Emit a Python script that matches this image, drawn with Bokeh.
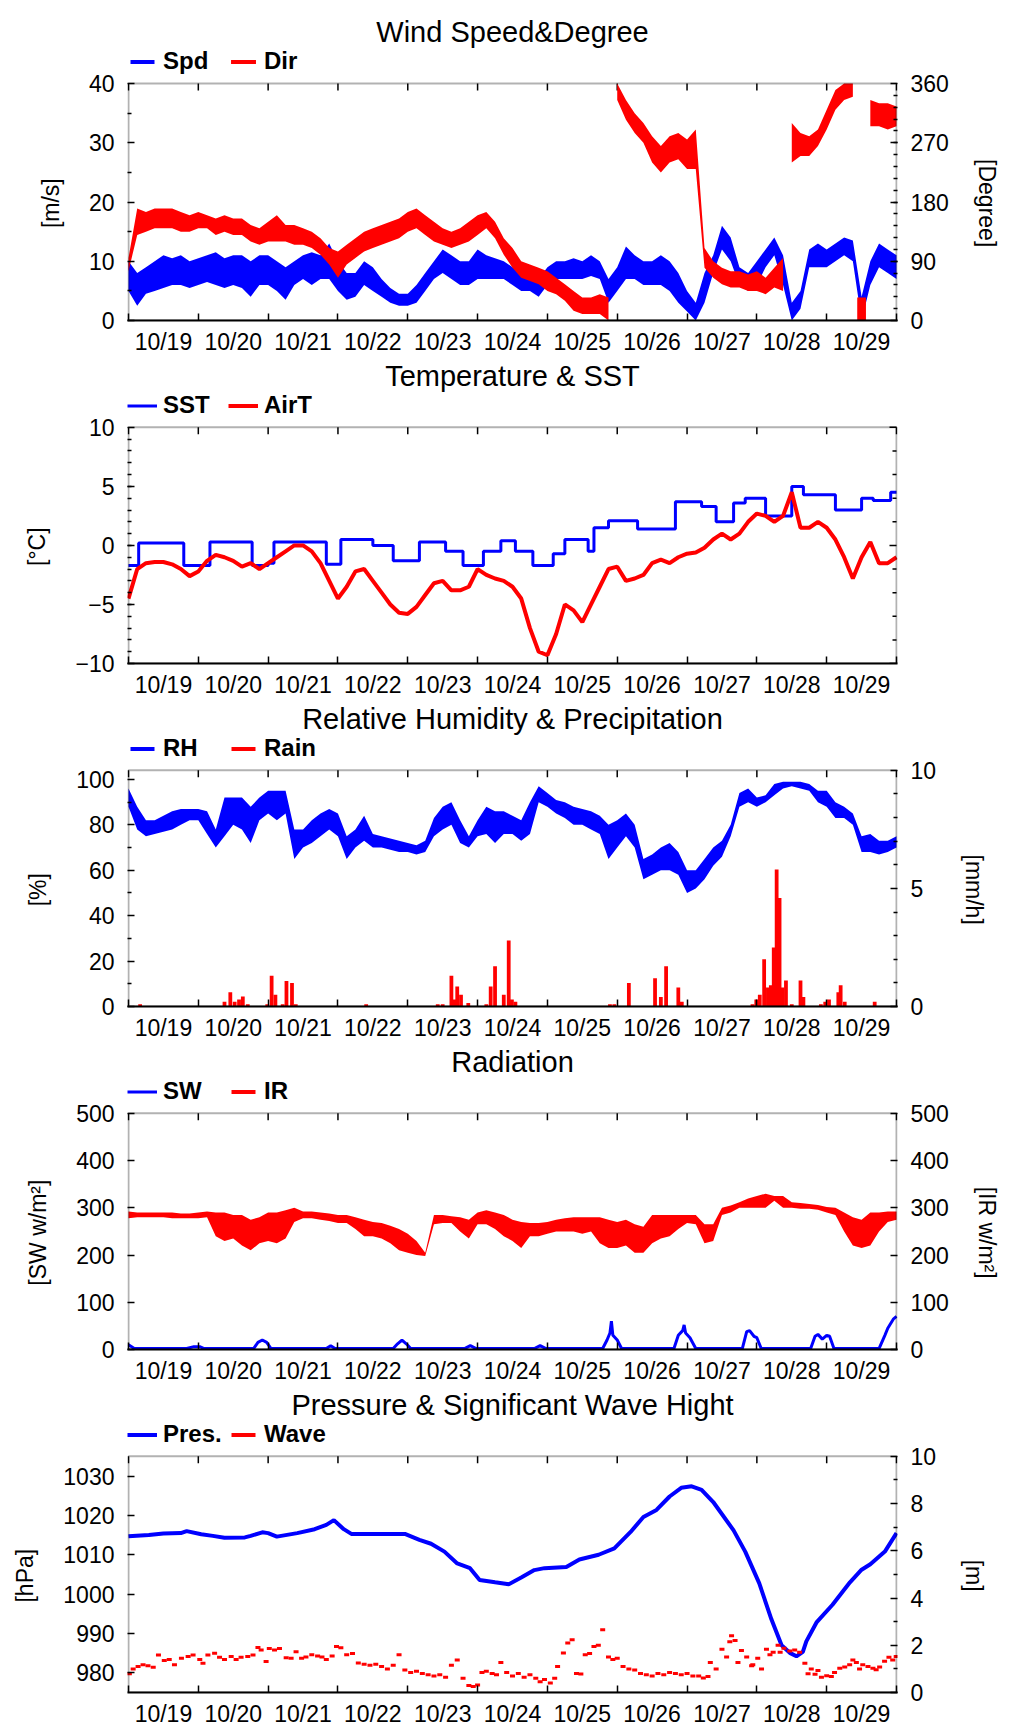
import math
import numpy as np
from bokeh.plotting import figure
from bokeh.layouts import column
from bokeh.models import (Range1d, LinearAxis, FixedTicker, Legend, LegendItem,
                          CustomJSTickFormatter, BoxAnnotation)
from bokeh.embed import file_html
from bokeh.resources import INLINE

FONT = "Liberation Sans"
BLUE = "#0000ff"
RED = "#ff0000"

# ---------------------------------------------------------------- time axis
# hours since 10/19 00:00; labels sit at the middle of each day
DAY_LABELS = ["10/19", "10/20", "10/21", "10/22", "10/23", "10/24",
              "10/25", "10/26", "10/27", "10/28", "10/29"]
HOURS = list(range(0, 265, 3))          # 3-hourly samples
T_END = 264

# ---------------------------------------------------------------- wind
SPD_LO = [5, 2.5, 4.5, 5, 5.5, 6, 6, 5.5,
          6, 6.5, 6, 5.5, 6, 5.5, 4, 6,
          6, 5, 3.5, 6, 7, 6, 7, 7,
          5, 3.5, 4, 6, 5, 4, 3, 2.5,
          2.5, 3, 5, 7, 8, 7, 6, 6,
          7, 7, 7, 7, 6, 5, 5, 4,
          6, 7, 7, 7, 7, 7.5, 7, 3,
          5, 7, 7, 6, 6, 6, 5, 3,
          1.5, 0, 3, 8, 12, 10, 6, 5,
          6, 9, 11, 6, 0, 2, 9, 9,
          9, 10, 11, 10, 0, 6, 9, 8, 7]
SPD_HI = [10, 8, 9, 10, 11, 10.5, 11, 10,
          10.5, 11, 11.5, 10.5, 11, 11, 10, 11,
          11, 10, 9, 10, 11, 11.5, 11, 13,
          10, 8, 8, 10, 9, 7, 5.5, 4.5,
          4.5, 6, 8, 10, 12, 11, 10, 10,
          12, 11, 10.5, 10, 9, 8, 8, 7,
          9, 10, 10, 10.5, 10, 11, 10, 7,
          9, 12.5, 11, 10, 10, 11, 10, 8,
          5, 3, 8, 11, 16, 14, 9, 8,
          10, 12, 14, 11, 3, 5, 12, 13,
          12, 13, 14, 13.5, 4, 10, 13, 12, 11]
DIR_LO = [75, 130, 135, 140, 140, 140, 135, 135,
          140, 140, 130, 135, 130, 130, 120, 115,
          120, 120, 120, 115, 115, 110, 100, 85,
          65, 85, 95, 105, 110, 115, 120, 125,
          135, 140, 130, 120, 115, 110, 115, 120,
          130, 140, 125, 100, 80, 65, 60, 55,
          45, 40, 30, 15, 10, 10, 10, 0,
          335, 305, 285, 270, 240, 225, 240, 245,
          230, 230, 80, 65, 55, 50, 50, 45,
          45, 40, 50, 45, 240, 250, 250, 265,
          290, 320, 335, 340, 0, 295, 295, 290, 295]
DIR_HI = [95, 170, 165, 170, 170, 170, 165, 160,
          165, 160, 155, 160, 155, 155, 145, 140,
          150, 160, 145, 145, 140, 135, 125, 110,
          105, 115, 125, 135, 140, 145, 150, 155,
          165, 170, 160, 150, 140, 135, 140, 150,
          160, 165, 150, 125, 110, 90, 85, 80,
          75, 65, 55, 45, 35, 35, 40, 35,
          360, 335, 315, 300, 280, 265, 280, 285,
          275, 290, 110, 90, 80, 75, 75, 70,
          75, 65, 80, 95, 300, 285, 280, 290,
          320, 350, 360, 360, 35, 335, 330, 330, 325]

# ---------------------------------------------------------------- temperature
SST_T = [0, 3.5, 19, 28, 42.5, 48, 50, 68, 73, 84, 91, 100, 109, 115, 122,
         128, 133, 139, 146, 150, 158, 160, 165, 175, 188, 197, 202, 208,
         212, 219, 228, 232, 243, 252, 256, 262, 264]
SST_V = [-1.7, 0.2, -1.7, 0.3, -1.7, -1.5, 0.3, -1.6, 0.5, 0.0, -1.3, 0.3,
         -0.5, -1.7, -0.5, 0.4, -0.5, -1.7, -0.7, 0.5, -0.5, 1.5, 2.1, 1.4,
         3.7, 3.3, 2.0, 3.6, 4.0, 2.5, 5.0, 4.3, 3.0, 4.0, 3.8, 4.5, 4.5]
AIRT = [-4.5, -2.0, -1.5, -1.4, -1.4, -1.6, -2.0, -2.6,
        -2.2, -1.3, -0.8, -1.0, -1.3, -1.8, -1.5, -2.0,
        -1.5, -1.0, -0.5, 0.0, 0.0, -0.5, -1.5, -3.0,
        -4.5, -3.5, -2.2, -2.0, -3.0, -4.0, -5.0, -5.7,
        -5.8, -5.2, -4.2, -3.2, -3.0, -3.8, -3.8, -3.5,
        -2.0, -2.5, -2.8, -3.0, -3.5, -4.5, -7.0, -9.0,
        -9.3, -7.5, -5.0, -5.5, -6.5, -5.0, -3.5, -2.0,
        -1.8, -3.0, -2.8, -2.5, -1.5, -1.2, -1.5, -1.0,
        -0.7, -0.6, -0.2, 0.5, 1.0, 0.5, 1.0, 2.0,
        2.7, 2.5, 2.0, 2.5, 4.5, 1.5, 1.5, 2.0,
        1.5, 0.5, -1.0, -2.8, -1.0, 0.3, -1.5, -1.5, -1.0]

# ---------------------------------------------------------------- humidity / rain
RH_LO = [88, 78, 75, 76, 77, 78, 80, 82,
         82, 76, 70, 75, 80, 78, 72, 82,
         85, 82, 85, 65, 70, 72, 75, 78,
         75, 65, 70, 73, 70, 70, 69, 68,
         68, 67, 68, 75, 78, 80, 72, 70,
         75, 76, 72, 76, 76, 73, 76, 90,
         88, 85, 83, 80, 80, 78, 76, 65,
         70, 75, 70, 56, 58, 60, 60, 58,
         50, 52, 56, 62, 66, 75, 88, 90,
         88, 90, 93, 96, 97, 96, 95, 90,
         88, 83, 83, 80, 68, 68, 67, 68, 70]
RH_HI = [96, 88, 82, 82, 84, 86, 87, 87,
         87, 86, 78, 92, 92, 92, 88, 92,
         95, 95, 95, 78, 78, 82, 85, 87,
         85, 75, 78, 84, 76, 75, 74, 73,
         72, 71, 73, 83, 88, 90, 82, 75,
         82, 88, 86, 86, 84, 82, 90, 97,
         94, 91, 90, 88, 87, 86, 84, 80,
         82, 85, 80, 65, 67, 70, 72, 68,
         60, 60, 65, 70, 73, 80, 94, 96,
         92, 93, 98, 99, 99, 99, 98, 95,
         95, 90, 88, 85, 75, 76, 73, 73, 75]
RAIN_H = [4, 33, 35, 36.5, 38, 39.3, 41, 47.7, 49.2, 50.5, 53, 54.3, 56.2, 57.5,
          81.7, 106.3, 108, 111, 112, 113, 114.3, 116.8, 123, 124.5, 126, 129,
          130.7, 131.8, 133, 165.5, 167, 172, 181, 183, 184.8, 189, 190.2,
          214.5, 215.8, 217, 218.5, 219.8, 220.8, 221.8, 222.8, 223.8, 224.8,
          226, 228, 231, 232, 238, 239.5, 240.8, 244, 244.8, 246.2, 256.5]
RAIN_V = [0.1, 0.2, 0.6, 0.2, 0.3, 0.42, 0.1, 0.1, 1.3, 0.5, 0.1, 1.08, 1.0, 0.1,
          0.1, 0.1, 0.1, 1.3, 0.3, 0.85, 0.5, 0.15, 0.1, 0.85, 1.7, 0.5,
          2.8, 0.3, 0.2, 0.1, 0.1, 1.0, 1.2, 0.4, 1.7, 0.8, 0.2,
          0.1, 0.3, 0.5, 2.0, 0.8, 0.9, 2.5, 5.8, 4.6, 0.8,
          1.1, 0.1, 1.1, 0.4, 0.1, 0.2, 0.3, 0.6, 0.9, 0.2, 0.2]

# ---------------------------------------------------------------- radiation
SW_T = [0, 2, 20, 22.5, 24.5, 26, 43, 44.5, 46, 47.5, 49, 68, 69.5, 71,
        91, 92.5, 94, 95.5, 97, 115.5, 117.5, 119.5, 139.5, 141.5, 143.5,
        163, 164.5, 165.5, 166, 166.5, 168, 169.5, 187.5, 189, 190.5, 191,
        191.5, 193, 195, 211, 212.5, 213.5, 215, 216, 217.5, 234.5, 236,
        237, 238.5, 240, 241, 242.5, 258, 260, 261, 262, 263, 264]
SW_V = [10, 2, 2, 6, 6, 2, 2, 15, 20, 15, 2, 2, 8, 2,
        2, 12, 20, 12, 2, 2, 8, 2, 2, 8, 2,
        2, 20, 35, 60, 30, 20, 2, 2, 30, 40, 52,
        35, 25, 2, 2, 38, 40, 28, 25, 2, 2, 28,
        32, 22, 30, 28, 2, 2, 30, 45, 55, 65, 70]
IR_LO = [278, 280, 280, 280, 280, 278, 278, 278,
         278, 280, 240, 230, 235, 220, 210, 225,
         230, 225, 235, 270, 278, 278, 275, 272,
         268, 268, 255, 240, 240, 235, 225, 210,
         205, 200, 198, 265, 268, 268, 250, 235,
         265, 265, 255, 240, 230, 215, 240, 240,
         245, 250, 250, 250, 245, 250, 225, 215,
         215, 220, 205, 205, 225, 235, 240, 255,
         268, 265, 225, 230, 285, 290, 300, 300,
         300, 300, 315, 300, 300, 298, 298, 296,
         290, 285, 250, 220, 215, 220, 250, 270, 275]
IR_HI = [292, 290, 290, 290, 290, 290, 288, 288,
         290, 292, 290, 290, 285, 285, 275, 280,
         290, 290, 295, 300, 292, 292, 290, 288,
         285, 285, 280, 275, 270, 268, 262, 255,
         245, 230, 205, 285, 285, 282, 280, 275,
         290, 295, 290, 285, 275, 270, 268, 268,
         270, 275, 278, 280, 280, 280, 280, 275,
         270, 275, 265, 260, 285, 285, 285, 285,
         285, 285, 265, 265, 300, 305, 312, 320,
         325, 330, 325, 325, 312, 310, 308, 306,
         302, 300, 290, 280, 275, 290, 290, 292, 292]

# ---------------------------------------------------------------- pressure / wave
PRES_T = [0, 7, 12, 18, 20, 25, 29, 33, 40, 42, 46, 48, 51, 58, 64, 68, 70.6,
          74, 76.6, 82, 95, 100, 104, 108.6, 113, 117.4, 120.7, 126, 130.7,
          135, 139.5, 143, 150.5, 155, 161.6, 167, 172.6, 177, 181.5, 186,
          190, 193.6, 197, 201, 208, 212, 216.8, 221, 224.5, 227.5, 229.6,
          231.8, 233, 236.5, 242, 248, 252, 255, 260, 264]
PRES_V = [1014.7, 1015.0, 1015.4, 1015.5, 1016.0, 1015.2, 1014.8, 1014.3,
          1014.4, 1014.8, 1015.7, 1015.5, 1014.6, 1015.5, 1016.5, 1017.6,
          1018.8, 1016.5, 1015.3, 1015.3, 1015.3, 1013.8, 1012.8, 1010.8,
          1007.8, 1006.6, 1003.6, 1003.0, 1002.5, 1004.2, 1006.1, 1006.6,
          1006.9, 1008.8, 1010.0, 1011.6, 1015.8, 1019.6, 1021.4, 1024.8,
          1027.0, 1027.4, 1026.5, 1023.4, 1016.2, 1010.8, 1002.8, 993.6,
          987.0, 985.0, 984.2, 985.3, 988.0, 992.8, 997.3, 1003.0, 1006.2,
          1007.6, 1010.8, 1015.5]
WAVE_H = [0.3, 1.6, 3.3, 5, 6.7, 8.5, 10.3, 12.3, 14, 15.8, 18.2, 20.5, 22.2,
          24.5, 25.6, 27.3, 29.6, 31.3, 33, 35.3, 37, 38.7, 41, 42.8, 44.5,
          45.6, 47.3, 48.4, 50.2, 51.9, 54.2, 55.9, 57.6,
          59.5, 61, 63, 65, 66.5, 68, 70, 71.5, 73, 75, 77, 79, 81, 83, 85,
          87, 89, 91, 93, 95, 97, 99, 101, 103, 105, 107, 109, 111, 113, 115,
          117, 118.5, 120, 121.5, 123, 125, 126.5, 128, 130, 132, 134, 136,
          138, 140, 141.5, 143, 145, 146.5, 147.5, 149.5, 151, 152.5, 154,
          155.5, 157, 158.5, 160, 161.5, 163, 165, 166.5, 168, 170, 172, 174,
          176, 178, 180, 182, 184, 186, 188, 190, 192, 194, 196,
          197.6, 199.2, 200, 202, 204, 205.6, 206.7, 207.3, 208.5, 209.5,
          210.7, 212.5, 214.2, 214.6, 216.3, 217.6, 219.3, 220.5, 221.6,
          223.3, 224, 225.3, 227.3, 229, 230.7, 232.5, 233.6, 234.7, 236,
          237, 238.2, 240, 241.6, 242.7, 244.5, 246.2, 247.9, 249, 250.2,
          251.3, 252.4, 254.2, 255.9, 257, 258.2, 259.9, 261.4, 262.7, 263.9]
WAVE_V = [0.79, 0.99, 1.1, 1.17, 1.13, 1.07, 1.59, 1.35, 1.4, 1.17, 1.45, 1.52,
          1.59, 1.4, 1.24, 1.59, 1.66, 1.49, 1.4, 1.52, 1.4, 1.49, 1.52, 1.59,
          1.91, 1.8, 1.31, 1.86, 1.8, 1.86, 1.47, 1.45, 1.73,
          1.45, 1.5, 1.6, 1.55, 1.5, 1.4, 1.55, 1.95, 1.9, 1.6, 1.65, 1.25,
          1.2, 1.15, 1.2, 1.1, 1.0, 1.15, 1.6, 0.95, 0.85, 0.9, 0.8, 0.75,
          0.7, 0.75, 0.65, 1.15, 1.38, 0.6, 0.3, 0.25, 0.32, 0.85, 0.9, 0.8,
          0.75, 1.27, 0.85, 0.7, 0.8, 0.65, 0.75, 0.6, 0.45, 0.55, 0.4, 0.6,
          1.1, 1.67, 2.1, 2.23, 0.8, 0.78, 1.6, 1.65, 1.95, 2.0, 2.66, 1.5,
          1.4, 1.45, 1.1, 1.0, 0.95, 0.8, 0.75, 0.7, 0.8, 0.75, 0.85, 0.8,
          0.75, 0.8, 0.7, 0.7,
          0.61, 0.68, 1.27, 0.99, 1.83, 1.5, 2.15, 2.4, 2.2, 1.27, 1.78, 1.5,
          1.13, 1.17, 1.45, 0.99, 1.83, 1.6, 1.7, 2.0, 1.7, 1.87, 1.76, 1.8,
          1.7, 1.24, 0.79, 1.0, 0.77, 0.93, 0.65, 0.71, 0.68, 0.85, 1.03,
          1.08, 1.17, 1.38, 1.27, 0.99, 1.17, 1.1, 1.03, 0.96, 1.08, 1.32,
          1.49, 1.38, 1.52]

# ---------------------------------------------------------------- layout helpers
BOX_H = 237           # height of the plotting box
HEAD = 36             # room inside the frame above the box for the legend row
FRAME_H = BOX_H + HEAD
PAD_X = 264 / 770     # one pixel in hours, keeps the box edges inside the frame
NOONS = [12 + 24 * k for k in range(len(DAY_LABELS))]
MIDNIGHTS = [24 * k for k in range(len(DAY_LABELS) + 1)]
# non-breaking padding that moves a y-axis title down to the middle of the box
NB = "\u00a0" * 6


def grown(lo, hi):
    """Range whose lower BOX_H pixels show [lo, hi]; the rest holds the legend."""
    return Range1d(lo, hi + (hi - lo) * HEAD / BOX_H)


def style_axis(ax):
    ax.axis_line_color = None
    ax.major_tick_line_color = "black"
    ax.minor_tick_line_color = "black"
    ax.major_tick_line_width = 1.5
    ax.minor_tick_line_width = 1.5
    ax.major_tick_in = 7
    ax.major_tick_out = 0
    ax.minor_tick_in = 4
    ax.minor_tick_out = 0
    ax.major_label_text_font = FONT
    ax.major_label_text_font_size = "23px"
    ax.major_label_text_color = "black"
    ax.major_label_text_line_height = 1.0
    ax.major_label_standoff = 13
    ax.axis_label_text_font = FONT
    ax.axis_label_text_font_size = "23px"
    ax.axis_label_text_font_style = "normal"
    ax.axis_label_text_color = "black"
    ax.axis_label_standoff = 22


def time_axis():
    ax = LinearAxis(ticker=FixedTicker(ticks=NOONS, minor_ticks=MIDNIGHTS),
                    formatter=CustomJSTickFormatter(
                        args=dict(labels=DAY_LABELS),
                        code="return labels[Math.round((tick - 12) / 24)] || ''"))
    style_axis(ax)
    ax.axis_line_color = "black"
    ax.axis_line_width = 2
    ax.major_tick_in = 0
    ax.minor_tick_in = 7
    ax.major_label_standoff = 8
    return ax


def y_axis(ticks, minor, label, range_name="default", side="left"):
    text = label + NB if side == "left" else NB + label
    ax = LinearAxis(ticker=FixedTicker(ticks=ticks, minor_ticks=minor),
                    y_range_name=range_name, axis_label=text)
    style_axis(ax)
    return ax


def panel(title, yr, top, bottom=36):
    p = figure(width=1009, height=top + FRAME_H + bottom,
               x_range=Range1d(-PAD_X, T_END + PAD_X), y_range=grown(*yr),
               x_axis_type=None, y_axis_type=None,
               output_backend="svg", toolbar_location=None,
               min_border_left=127, min_border_right=112,
               min_border_top=top, min_border_bottom=bottom)
    p.outline_line_color = None
    p.background_fill_color = "white"
    p.border_fill_color = "white"
    p.title.text = title
    p.title.text_font = FONT
    p.title.text_font_size = "29px"
    p.title.text_font_style = "normal"
    p.title.text_color = "black"
    p.title.text_line_height = 1.0
    p.title.align = "center"
    if "standoff" in p.title.properties():
        p.title.standoff = 0
    p.add_layout(time_axis(), "below")
    p.add_layout(BoxAnnotation(left=0, right=T_END, bottom=yr[0], top=yr[1],
                               fill_alpha=0, line_color="black", line_width=2))
    # day ticks mirrored on the top edge of the box
    p.ray(x=MIDNIGHTS, y=[yr[1]] * len(MIDNIGHTS), length=7, length_units="screen",
          angle=-math.pi / 2, line_color="black", line_width=1.5)
    return p


def add_legend(p, items):
    leg = Legend(items=[LegendItem(label=l, renderers=r) for l, r in items],
                 location="top_left", orientation="horizontal",
                 glyph_width=30, glyph_height=5, label_standoff=6,
                 label_width=65, label_height=27, spacing=0, padding=0, margin=0,
                 border_line_color=None, background_fill_alpha=0,
                 label_text_font=FONT, label_text_font_size="24px",
                 label_text_font_style="bold", label_text_color="black")
    p.add_layout(leg)


def band(p, x, lo, hi, color, range_name="default", step=3):
    x = np.asarray(x, float)
    lo = np.asarray(lo, float)
    hi = np.asarray(hi, float)
    mid = (lo + hi) / 2
    cuts = np.where(np.abs(np.diff(mid)) > 180)[0] + 1
    rends = []
    for seg in np.split(np.arange(len(x)), cuts):
        if len(seg) > 1:
            r = p.varea(x=x[seg], y1=lo[seg], y2=hi[seg], fill_color=color,
                        y_range_name=range_name)
        else:
            r = p.vbar(x=x[seg], bottom=lo[seg], top=hi[seg], width=step,
                       fill_color=color, line_color=None, y_range_name=range_name)
        rends.append(r)
    return rends


# ---------------------------------------------------------------- 1: wind
p1 = panel("Wind Speed&Degree", (0, 40), top=47, bottom=37)
p1.extra_y_ranges = {"dir": grown(0, 360)}
p1.add_layout(y_axis([0, 10, 20, 30, 40], [5, 15, 25, 35], "[m/s]"), "left")
p1.add_layout(y_axis([0, 90, 180, 270, 360], list(range(18, 360, 18)), "[Degree]",
                     "dir", "right"), "right")
r_spd = band(p1, HOURS, SPD_LO, SPD_HI, BLUE)
r_dir = band(p1, HOURS, DIR_LO, DIR_HI, RED, "dir")
add_legend(p1, [("Spd", r_spd), ("Dir", r_dir)])

# ---------------------------------------------------------------- 2: temperature
p2 = panel("Temperature & SST", (-10, 10), top=34)
p2.add_layout(y_axis([-10, -5, 0, 5, 10], list(range(-9, 10)), "[°C]"), "left")
# unlabelled right-hand ticks
p2.ray(x=[T_END] * 3, y=[-10, 0, 10], length=7, length_units="screen",
       angle=math.pi, line_color="black", line_width=1.5)
p2.ray(x=[T_END] * 8, y=[-8, -6, -4, -2, 2, 4, 6, 8], length=4,
       length_units="screen", angle=math.pi, line_color="black", line_width=1.5)
r_sst = p2.step(SST_T, SST_V, mode="after", line_color=BLUE, line_width=3)
r_air = p2.line(HOURS, AIRT, line_color=RED, line_width=4)
add_legend(p2, [("SST", [r_sst]), ("AirT", [r_air])])

# ---------------------------------------------------------------- 3: humidity
p3 = panel("Relative Humidity & Precipitation", (0, 104), top=34)
p3.extra_y_ranges = {"rain": grown(0, 10)}
p3.add_layout(y_axis([0, 20, 40, 60, 80, 100], [10, 30, 50, 70, 90], "[%]"), "left")
p3.add_layout(y_axis([0, 5, 10], [1, 2, 3, 4, 6, 7, 8, 9], "[mm/h]", "rain",
                     "right"), "right")
r_rh = band(p3, HOURS, RH_LO, RH_HI, BLUE)
r_rain = p3.vbar(x=RAIN_H, top=RAIN_V, bottom=0, width=1.3, fill_color=RED,
                 line_color=None, y_range_name="rain")
add_legend(p3, [("RH", r_rh), ("Rain", [r_rain])])

# ---------------------------------------------------------------- 4: radiation
p4 = panel("Radiation", (0, 500), top=34)
p4.extra_y_ranges = {"ir": grown(0, 500)}
p4.add_layout(y_axis([0, 100, 200, 300, 400, 500], [], "[SW w/m²]"), "left")
p4.add_layout(y_axis([0, 100, 200, 300, 400, 500], [], "[IR w/m²]", "ir",
                     "right"), "right")
r_sw = p4.line(SW_T, SW_V, line_color=BLUE, line_width=3)
r_ir = band(p4, HOURS, IR_LO, IR_HI, RED, "ir")
add_legend(p4, [("SW", [r_sw]), ("IR", r_ir)])

# ---------------------------------------------------------------- 5: pressure / wave
p5 = panel("Pressure & Significant Wave Hight", (975, 1035), top=34)
p5.extra_y_ranges = {"wave": grown(0, 10)}
p5.add_layout(y_axis([980, 990, 1000, 1010, 1020, 1030], [], "[hPa]"), "left")
p5.add_layout(y_axis([0, 2, 4, 6, 8, 10], [1, 3, 5, 7, 9], "[m]", "wave",
                     "right"), "right")
r_pres = p5.line(PRES_T, PRES_V, line_color=BLUE, line_width=4)
r_wave = p5.rect(x=WAVE_H, y=WAVE_V, width=5, height=3, width_units="screen",
                 height_units="screen", fill_color=RED, line_color=None,
                 y_range_name="wave")
add_legend(p5, [("Pres.", [r_pres]), ("Wave", [r_wave])])

page = column(p1, p2, p3, p4, p5, spacing=0)
open("out.html", "w").write(file_html(page, INLINE))
